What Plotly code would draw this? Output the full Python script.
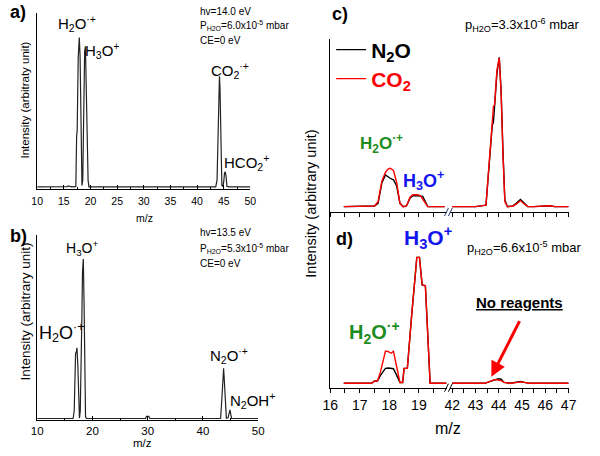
import plotly.graph_objects as go

W, H = 600, 456
FONT = "Liberation Sans, Arial, sans-serif"

# ---------------- data ----------------
# panel a) hv=14.0 eV, CO2 reagent
mz_a = [10.0, 12.0, 15.0, 15.6, 15.9, 16.2, 17.0, 17.25, 17.4, 17.5, 17.7, 17.9, 18.05, 18.25,
        18.4, 18.55, 18.75, 18.9, 19.05, 19.2, 19.35, 19.45, 19.55, 19.7, 22.0, 30.0, 38.0,
        43.5, 43.75, 43.95, 44.1, 44.2, 44.3, 44.45, 44.65, 44.85, 45.0, 45.15, 45.3, 45.45,
        45.6, 46.0, 48.0, 50.0]
int_a = [0.012, 0.012, 0.012, 0.014, 0.018, 0.013, 0.012, 0.015, 0.30, 0.33, 0.75, 0.86, 0.75, 0.25,
         0.02, 0.05, 0.60, 0.78, 0.81, 0.60, 0.30, 0.28, 0.05, 0.012, 0.012, 0.012, 0.012,
         0.012, 0.05, 0.35, 0.60, 0.64, 0.58, 0.25, 0.02, 0.015, 0.04, 0.09, 0.098, 0.07,
         0.015, 0.012, 0.012, 0.012]

# panel b) hv=13.5 eV, N2O reagent
mz_b = [10.0, 14.0, 16.5, 16.7, 16.95, 17.1, 17.2, 17.35, 17.55, 17.65, 17.8, 17.95, 18.1,
        18.2, 18.35, 18.5, 18.65, 18.75, 18.9, 25.0, 29.6, 29.8, 30.0, 30.2, 30.4, 36.0,
        43.2, 43.4, 43.6, 43.75, 43.9, 44.1, 44.25, 44.55, 44.75, 44.9, 45.05, 45.2, 47.0, 50.0]
int_b = [0.008, 0.008, 0.008, 0.05, 0.36, 0.37, 0.39, 0.30, 0.04, 0.01, 0.05, 0.52, 0.58,
         0.80, 0.87, 0.60, 0.15, 0.02, 0.008, 0.008, 0.008, 0.02, 0.022, 0.02, 0.008, 0.008,
         0.008, 0.10, 0.26, 0.28, 0.20, 0.03, 0.01, 0.012, 0.05, 0.055, 0.03, 0.008, 0.008, 0.008]

# panel c) p_H2O = 3.3e-6 mbar
mz_c_left = [16.46, 17.0, 17.5, 17.62, 17.75, 17.87, 17.97, 18.03, 18.14, 18.25, 18.36, 18.47,
             18.58, 18.7, 18.8, 18.95, 19.05, 19.13, 19.22, 19.3, 19.5, 19.87]
n2o_c_left = [0.031, 0.031, 0.035, 0.05, 0.17, 0.214, 0.20, 0.195, 0.186, 0.15, 0.05, 0.031,
              0.035, 0.08, 0.095, 0.095, 0.092, 0.09, 0.06, 0.031, 0.031, 0.031]
co2_c_left = [0.031, 0.031, 0.035, 0.06, 0.18, 0.23, 0.25, 0.253, 0.24, 0.17, 0.05, 0.031,
              0.035, 0.085, 0.10, 0.10, 0.095, 0.075, 0.05, 0.031, 0.031, 0.031]
mz_c_right = [42.0, 43.0, 43.45, 43.6, 43.72, 43.77, 43.82, 43.92, 44.02, 44.1, 44.18, 44.26,
              44.37, 44.6, 44.75, 44.93, 45.1, 45.25, 45.5, 46.2, 46.4, 47.0]
n2o_c_right = [0.031, 0.031, 0.04, 0.30, 0.50, 0.52, 0.61, 0.80, 0.894, 0.70, 0.35, 0.07,
               0.031, 0.035, 0.05, 0.072, 0.05, 0.031, 0.031, 0.036, 0.031, 0.031]
co2_c_right = [0.031, 0.031, 0.04, 0.33, 0.55, 0.61, 0.62, 0.82, 0.89, 0.69, 0.33, 0.06,
               0.031, 0.033, 0.045, 0.066, 0.045, 0.031, 0.031, 0.036, 0.031, 0.031]

# panel d) p_H2O = 6.6e-5 mbar
mz_d_left = [16.46, 17.4, 17.5, 17.6, 17.7, 17.87, 17.97, 18.06, 18.14, 18.25, 18.36, 18.45,
             18.5, 18.53, 18.61, 18.75, 18.93, 19.02, 19.11, 19.22, 19.3, 19.38, 19.6, 19.93]
n2o_d_left = [0.025, 0.025, 0.038, 0.038, 0.07, 0.11, 0.112, 0.11, 0.108, 0.07, 0.03, 0.03,
              0.11, 0.11, 0.11, 0.40, 0.742, 0.742, 0.585, 0.58, 0.30, 0.025, 0.025, 0.025]
co2_d_left = [0.025, 0.025, 0.038, 0.038, 0.09, 0.209, 0.205, 0.196, 0.207, 0.12, 0.03, 0.03,
              0.11, 0.11, 0.11, 0.40, 0.742, 0.742, 0.585, 0.58, 0.30, 0.025, 0.025, 0.025]
mz_d_right = [42.0, 43.4, 43.6, 43.81, 43.98, 44.1, 44.23, 44.5, 44.8, 44.93, 45.1, 45.3, 47.0]
n2o_d_right = [0.025, 0.025, 0.035, 0.045, 0.051, 0.048, 0.03, 0.025, 0.03, 0.035, 0.03, 0.025, 0.025]
co2_d_right = [0.025, 0.025, 0.035, 0.046, 0.044, 0.04, 0.03, 0.025, 0.03, 0.033, 0.03, 0.025, 0.025]

ticks_a = [10, 15, 20, 25, 30, 35, 40, 45, 50]
ticks_b = [10, 20, 30, 40, 50]
ticks_cd_left = [16, 17, 18, 19]
ticks_cd_right = [42, 43, 44, 45, 46, 47]


# ---------------- helpers ----------------
def px(x):
    return x / W


def py(y):
    return 1 - y / H


GREEN = "#1e8c1e"
BLUE = "#1414f0"
RED = "#ff0000"
GREY = "#222222"

fig = go.Figure()

fig.add_trace(go.Scatter(x=mz_a, y=int_a, mode="lines", line=dict(color=GREY, width=1.2),
                         xaxis="x", yaxis="y", showlegend=False))
fig.add_trace(go.Scatter(x=mz_b, y=int_b, mode="lines", line=dict(color=GREY, width=1.2),
                         xaxis="x2", yaxis="y2", showlegend=False))

series = [
    (mz_c_left, n2o_c_left, co2_c_left, "x3", "y3", True),
    (mz_c_right, n2o_c_right, co2_c_right, "x4", "y3", False),
    (mz_d_left, n2o_d_left, co2_d_left, "x5", "y4", False),
    (mz_d_right, n2o_d_right, co2_d_right, "x6", "y4", False),
]
for mz, n2o, co2, xa, ya, leg in series:
    fig.add_trace(go.Scatter(x=mz, y=n2o, mode="lines", line=dict(color="black", width=1.4),
                             xaxis=xa, yaxis=ya, showlegend=leg, legend="legend",
                             name="<b>N<sub>2</sub>O</b>"))
for mz, n2o, co2, xa, ya, leg in series:
    fig.add_trace(go.Scatter(x=mz, y=co2, mode="lines", line=dict(color=RED, width=1.4),
                             xaxis=xa, yaxis=ya, showlegend=leg, legend="legend2",
                             name="<b>CO<sub>2</sub></b>"))

common_x = dict(showgrid=False, zeroline=False, showline=True, linecolor="black", linewidth=1,
                tickcolor="black", tickfont=dict(family=FONT, color="black"))
common_y = dict(showgrid=False, zeroline=False, showline=True, linecolor="black", linewidth=1,
                showticklabels=False, ticks="", range=[0, 1])

fig.update_layout(
    width=W, height=H, margin=dict(l=0, r=0, t=0, b=0),
    paper_bgcolor="white", plot_bgcolor="white",
    font=dict(family=FONT, color="black"),
    xaxis=dict(**common_x, domain=[px(30), px(249)], range=[10, 50], anchor="y",
               tickvals=ticks_a, ticks="inside", ticklen=4, tickfont_size=10.5,
               ticklabelstandoff=2,
               minor=dict(dtick=2.5, tick0=10, ticks="inside", ticklen=2, tickcolor="black")),
    yaxis=dict(**common_y, domain=[py(189), py(13)], anchor="x"),
    xaxis2=dict(**common_x, domain=[px(30), px(257)], range=[10, 50], anchor="y2",
                tickvals=ticks_b, ticks="inside", ticklen=4, tickfont_size=11.5,
                minor=dict(dtick=5, tick0=10, ticks="inside", ticklen=2, tickcolor="black")),
    yaxis2=dict(**common_y, domain=[py(420), py(235)], anchor="x2"),
    xaxis3=dict(**common_x, domain=[px(331), px(451)], range=[16, 19.95], anchor="y3",
                tickvals=ticks_cd_left, ticks="outside", ticklen=4, showticklabels=False,
                minor=dict(dtick=0.5, tick0=16, ticks="outside", ticklen=4, tickcolor="black")),
    xaxis4=dict(**common_x, domain=[px(454), px(576)], range=[41.9, 47], anchor="y3",
                tickvals=ticks_cd_right, ticks="outside", ticklen=4, showticklabels=False,
                minor=dict(dtick=0.5, tick0=42, ticks="outside", ticklen=4, tickcolor="black")),
    yaxis3=dict(**{**common_y, "ticks": "inside"}, domain=[py(212), py(39)], anchor="x3",
                tickvals=[0], ticklen=5, tickcolor="black"),
    xaxis5=dict(**common_x, domain=[px(331), px(451)], range=[16, 19.95], anchor="y4",
                tickvals=ticks_cd_left, ticks="outside", ticklen=4, tickfont_size=14,
                minor=dict(dtick=0.5, tick0=16, ticks="outside", ticklen=4, tickcolor="black")),
    xaxis6=dict(**common_x, domain=[px(454), px(576)], range=[41.9, 47], anchor="y4",
                tickvals=ticks_cd_right, ticks="outside", ticklen=4, tickfont_size=14,
                minor=dict(dtick=0.5, tick0=42, ticks="outside", ticklen=4, tickcolor="black")),
    yaxis4=dict(**common_y, domain=[py(387.7), py(212)], anchor="x5"),
    legend=dict(x=px(332), y=py(50), xanchor="left", yanchor="middle", bgcolor="rgba(0,0,0,0)",
                font=dict(size=21, color="black", family=FONT), itemwidth=30,
                tracegroupgap=0),
    legend2=dict(x=px(332), y=py(79), xanchor="left", yanchor="middle", bgcolor="rgba(0,0,0,0)",
                 font=dict(size=21, color=RED, family=FONT), itemwidth=30,
                 tracegroupgap=0),
)

ann = []


def text(t, x, y, size, color="black", xanchor="left", angle=0):
    ann.append(dict(text=t, x=px(x), y=py(y), xref="paper", yref="paper", showarrow=False,
                    xanchor=xanchor, yanchor="middle", textangle=angle,
                    font=dict(size=size, color=color, family=FONT)))


# panel a
text("<b>a)</b>", 0, 12, 18)
text("hv=14.0 eV", 195, 11, 10)
text("P<sub>H2O</sub>=6.0x10<sup>-5</sup> mbar", 195, 26, 10)
text("CE=0 eV", 195, 40, 10)
text("H<sub>2</sub>O<sup>·+</sup>", 71, 24, 15, xanchor="center")
text("H<sub>3</sub>O<sup>+</sup>", 97, 50, 15, xanchor="center")
text("CO<sub>2</sub><sup>·+</sup>", 228, 70, 15, xanchor="center")
text("HCO<sub>2</sub><sup>+</sup>", 245, 162, 15, xanchor="center")
text("m/z", 140, 218, 10.5, xanchor="center")
text("Intensity (arbitraty unit)", 17, 100, 11.5, xanchor="center", angle=-90)

# panel b
text("<b>b)</b>", 0, 236, 18)
text("hv=13.5 eV", 195, 232, 10)
text("P<sub>H2O</sub>=5.3x10<sup>-5</sup> mbar", 195, 248, 10)
text("CE=0 eV", 195, 263, 10)
text("H<sub>3</sub>O<sup>+</sup>", 76, 248, 14, xanchor="center")
text("H<sub>2</sub>O<sup>·+</sup>", 55, 332, 18, xanchor="center")
text("N<sub>2</sub>O<sup>·+</sup>", 227, 355, 15, xanchor="center")
text("N<sub>2</sub>OH<sup>+</sup>", 251, 400, 15, xanchor="center")
text("m/z", 138, 443, 11.5, xanchor="center")
text("Intensity (arbitrary unit)", 17, 312, 13.5, xanchor="center", angle=-90)

# panel c
text("<b>c)</b>", 331, 14, 18)
text("p<sub>H2O</sub>=3.3x10<sup>-6</sup> mbar", 529, 25, 13, xanchor="center")
text("<b>H<sub>2</sub>O<sup>·+</sup></b>", 384, 143, 17, color=GREEN, xanchor="center")
text("<b>H<sub>3</sub>O<sup>+</sup></b>", 427, 180, 18, color=BLUE, xanchor="center")

# panel d
text("<b>d)</b>", 335, 239, 18)
text("<b>H<sub>3</sub>O<sup>+</sup></b>", 432, 238, 21, color=BLUE, xanchor="center")
text("p<sub>H2O</sub>=6.6x10<sup>-5</sup> mbar", 531, 248, 13, xanchor="center")
text("<b>H<sub>2</sub>O<sup>·+</sup></b>", 377, 332, 20, color=GREEN, xanchor="center")
text("<b><u>No reagents</u></b>", 526, 302, 15, xanchor="center")
text("m/z", 452, 428, 16, xanchor="center")
text("Intensity (arbitrary unit)", 311, 204, 14.5, xanchor="center", angle=-90)

ann.append(dict(x=43.68, y=0.063, xref="x6", yref="y4", text="", showarrow=True,
                ax=29, ay=-57, arrowcolor=RED, arrowwidth=3, arrowhead=2, arrowsize=1))

# axis-break marks "//" on the two broken x axes
shapes = []
for yb, col in ((212, "#2a3570"), (387.7, "black")):
    for xb in (450.5, 454.5):
        shapes.append(dict(type="line", xref="paper", yref="paper",
                           x0=px(xb - 2), y0=py(yb + 4), x1=px(xb + 2), y1=py(yb - 4),
                           line=dict(color=col, width=1)))

fig.update_layout(annotations=ann, shapes=shapes)

fig.write_html("out.html", config={"displayModeBar": False},
               post_script="document.body.style.margin='0';")
